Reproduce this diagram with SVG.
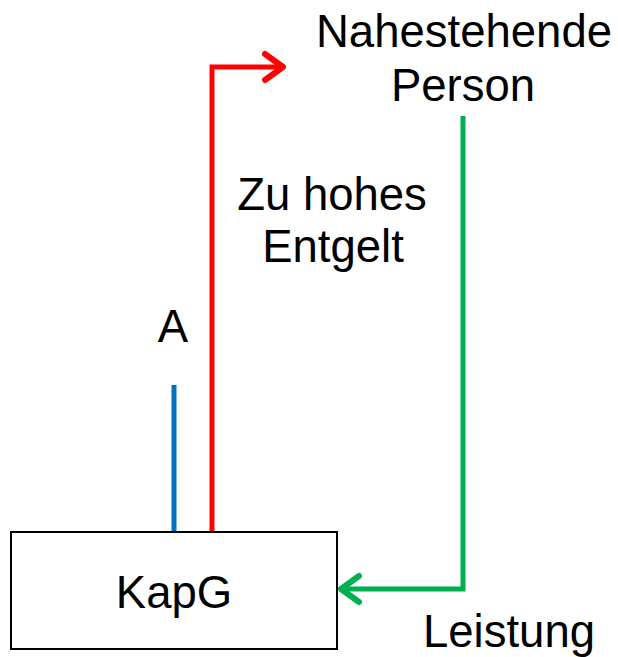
<svg xmlns="http://www.w3.org/2000/svg" width="618" height="657" viewBox="0 0 618 657">
<style>
text{font-family:"Liberation Sans",Arial,sans-serif;font-size:45.5px;fill:#000;text-anchor:middle}
.c{fill:none;stroke-width:5;stroke-linejoin:miter}
.h{fill:none;stroke-width:6;stroke-linecap:round;stroke-linejoin:round}
</style>
<rect width="618" height="657" fill="#fff"/>
<g id="connectors">
<line class="c" x1="174" y1="385" x2="174" y2="532" stroke="#0070C0"/>
<polyline class="c" points="212,532 212,67 283,67" stroke="#FF0000"/>
<polyline class="h" points="265,54 283,67 265,80" stroke="#FF0000"/>
<polyline class="c" points="463,116 463,589 341,589" stroke="#00B050"/>
<polyline class="h" points="359,576 341,589 359,602" stroke="#00B050"/>
</g>
<g id="kapg">
<rect x="11" y="532" width="326" height="117" fill="#fff" stroke="#000" stroke-width="2"/>
<text x="174" y="608">KapG</text>
</g>
<g id="person">
<text x="464" y="47">Nahestehende</text>
<text x="463" y="101">Person</text>
</g>
<g id="entgelt"><text x="332" y="210">Zu hohes</text><text x="333" y="262">Entgelt</text></g>
<g id="a"><text x="173" y="342">A</text></g>
<g id="leistung"><text x="509" y="647">Leistung</text></g>
</svg>
